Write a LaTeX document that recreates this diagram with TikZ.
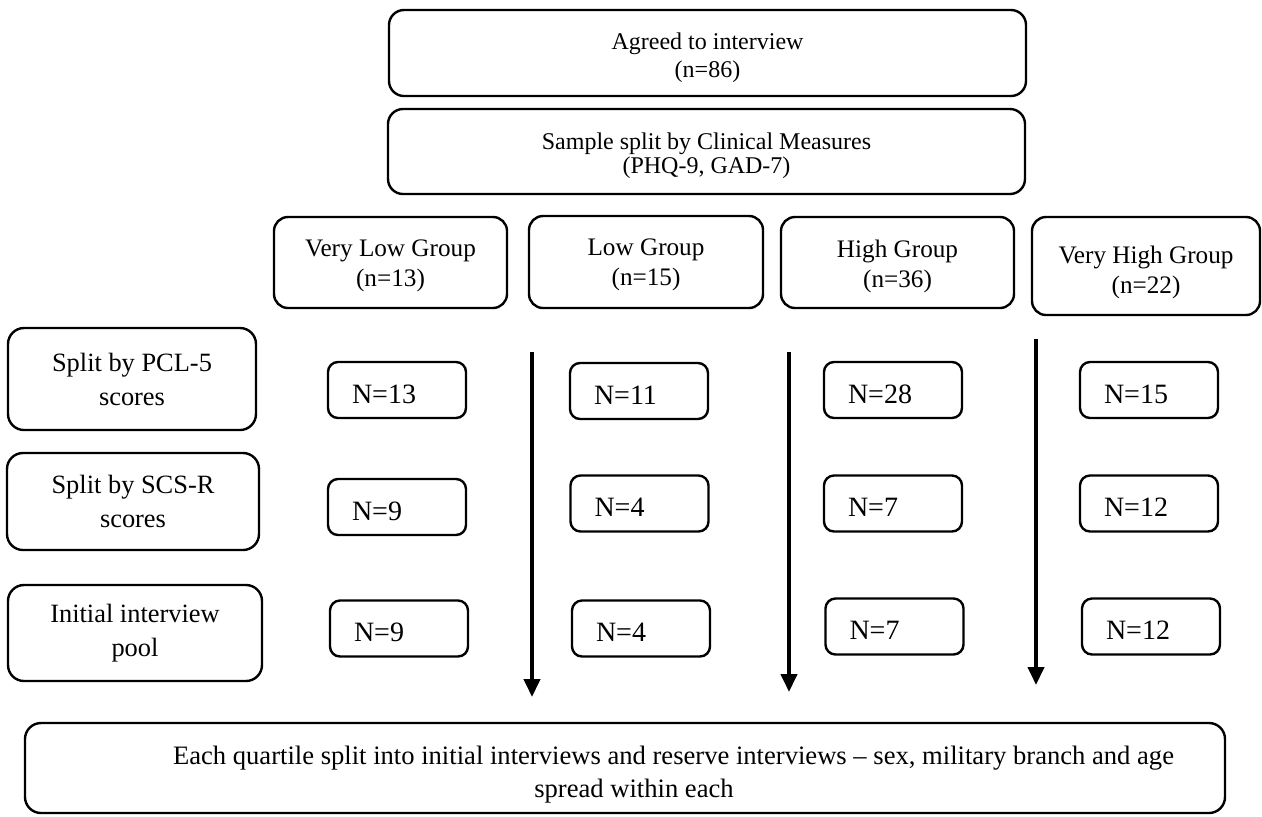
\documentclass[tikz,border=0pt]{standalone}
\usepackage{fontspec}
\setmainfont{Liberation Serif}
\usetikzlibrary{arrows.meta,calc}
\begin{document}
\begin{tikzpicture}[x=0.5pt,y=-0.5pt,
  boxbase/.style={draw, line width=1.2pt, inner sep=0pt},
  bigbox/.style={boxbase, rounded corners=7.5pt},
  grpbox/.style={boxbase, rounded corners=7pt},
  labbox/.style={boxbase, rounded corners=8pt, align=center, font=\fontsize{13.2}{17}\selectfont},
  bigtxt/.style={inner sep=0pt, align=center, font=\fontsize{12}{14}\selectfont},
  smptxt/.style={inner sep=0pt, align=center, font=\fontsize{12}{12.2}\selectfont},
  grptxt/.style={inner sep=0pt, align=center, font=\fontsize{12.6}{15}\selectfont},
  bottxt/.style={inner sep=0pt, align=center, font=\fontsize{13.3}{16.5}\selectfont},
  nbox/.style={draw, line width=1.2pt, rounded corners=5pt, font=\fontsize{14}{16}\selectfont,
    text width=45pt, align=left, inner xsep=12pt, inner ysep=0pt,
    minimum width=69pt, minimum height=28pt, text height=13.2pt, text depth=0pt},
  botbox/.style={boxbase, rounded corners=8pt},
  arr/.style={line width=2pt, -{Triangle[width=8pt,length=9pt]}}
]
\useasboundingbox (0,0) rectangle (1262,816);

% top boxes
\node[bigbox, minimum width=318.5pt, minimum height=43pt] (agreed) at (707.5,53) {};
\node[bigtxt] (agreedtxt) at ($(agreed.center)+(0,5)$) {Agreed to interview\\(n=86)};
\node[bigbox, minimum width=318.5pt, minimum height=42.5pt] (sample) at (706.5,151.5) {};
\node[smptxt] (sampletxt) at ($(sample.center)+(0,4)$) {Sample split by Clinical Measures\\(PHQ-9, GAD-7)};

% group boxes
\node[grpbox, minimum width=116.5pt, minimum height=45.5pt] (vlow) at (390.5,262.5) {};
\node[grptxt] (vlowtxt) at ($(vlow.center)+(0,3.5)$) {Very Low Group\\(n=13)};
\node[grpbox, minimum width=117pt, minimum height=46pt] (low) at (646,262) {};
\node[grptxt] (lowtxt) at ($(low.center)+(0,3)$) {Low Group\\(n=15)};
\node[grpbox, minimum width=116.5pt, minimum height=45.5pt] (high) at (897.5,262.5) {};
\node[grptxt] (hightxt) at ($(high.center)+(0,3.5)$) {High Group\\(n=36)};
\node[grpbox, minimum width=114pt, minimum height=49pt] (vhigh) at (1146,266) {};
\node[grptxt] (vhightxt) at ($(vhigh.center)+(0,6)$) {Very High Group\\(n=22)};

% left labels
\node[labbox, minimum width=124pt, minimum height=51pt] (pcl) at (132,379) {Split by PCL-5\\scores};
\node[labbox, minimum width=126pt, minimum height=48.5pt] (scs) at (133,501.5) {Split by SCS-R\\scores};
\node[labbox, minimum width=127pt, minimum height=48pt] (pool) at (135,633) {Initial interview\\pool};

% count boxes
\node[nbox] (a1) at (397,390) {N=13};
\node[nbox] (a2) at (397,507) {N=9};
\node[nbox] (a3) at (399,628.5) {N=9};
\node[nbox] (b1) at (639,391) {N=11};
\node[nbox] (b2) at (639.5,503.5) {N=4};
\node[nbox] (b3) at (641,628.5) {N=4};
\node[nbox] (c1) at (893,390) {N=28};
\node[nbox] (c2) at (893,503.5) {N=7};
\node[nbox] (c3) at (894.5,626.5) {N=7};
\node[nbox] (d1) at (1149,390) {N=15};
\node[nbox] (d2) at (1149,503.5) {N=12};
\node[nbox] (d3) at (1151,626.5) {N=12};

% bottom box
\node[botbox, minimum width=600pt, minimum height=45pt] (bottom) at (625,768) {};
\node[bottxt] (bottomtxt) at ($(bottom.center)+(0,7)$)
  {\hspace*{48.5pt}Each quartile split into initial interviews and reserve interviews – sex, military branch and age\\\hspace*{9pt}spread within each};

% arrows
\coordinate (s1) at (532,352); \coordinate (e1) at (532,697);
\coordinate (s2) at (789,352); \coordinate (e2) at (789,692);
\coordinate (s3) at (1036,339); \coordinate (e3) at (1036,685);
\draw[arr] (s1) -- (e1);
\draw[arr] (s2) -- (e2);
\draw[arr] (s3) -- (e3);
\end{tikzpicture}
\end{document}
